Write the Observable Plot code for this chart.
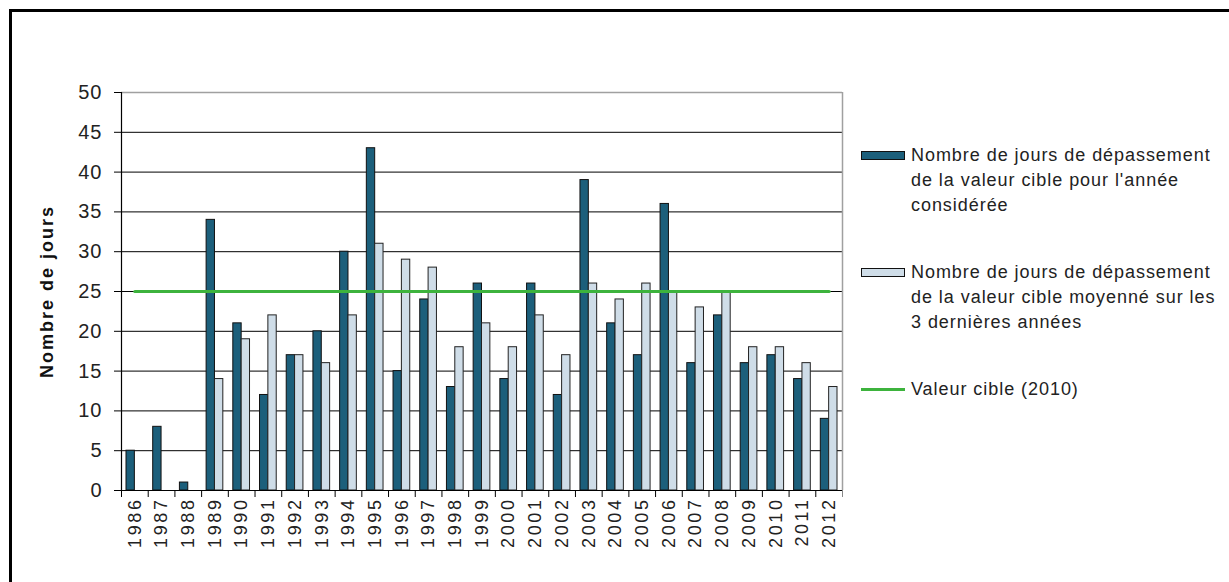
<!DOCTYPE html>
<html>
<head>
<meta charset="utf-8">
<script src="https://cdn.jsdelivr.net/npm/d3@7"></script>
<script src="https://cdn.jsdelivr.net/npm/@observablehq/plot@0.6"></script>
<style>
  html, body { margin: 0; padding: 0; background: #fff; overflow: hidden; }
  body { width: 1229px; height: 582px; position: relative; font-family: "Liberation Sans", Arial, sans-serif; }
  #frame { position: absolute; left: 9px; top: 9px; width: 1400px; height: 800px; border-left: 3px solid #000; border-top: 3px solid #000; }
  #chart { position: absolute; left: 0; top: 0; width: 850px; }
  #legend { position: absolute; left: 0; top: 0; width: 1229px; height: 582px; color: #222; font-size: 18px; letter-spacing: 0.95px; }
  .sw { position: absolute; left: 861px; width: 44px; height: 9px; box-sizing: border-box; border: 1px solid #111; }
  .ln { position: absolute; left: 861px; width: 44px; height: 3px; }
  .tx { position: absolute; left: 911px; line-height: 25px; white-space: nowrap; }
  g[aria-label="x-axis tick label"] text { letter-spacing: 2.6px; }
  g[aria-label="y-axis tick label"] text { letter-spacing: 1px; }
  g[aria-label="x-axis tick label"], g[aria-label="y-axis tick label"] { fill: #222; }
  g[aria-label="text"] text { letter-spacing: 2px; }
</style>
</head>
<body>
<div id="frame"></div>
<div id="chart"></div>
<div id="legend"></div>
<script>
// ---- data ----
const years = ["1986","1987","1988","1989","1990","1991","1992","1993","1994","1995","1996","1997","1998","1999","2000","2001","2002","2003","2004","2005","2006","2007","2008","2009","2010","2011","2012"];
const annual = [5, 8, 1, 34, 21, 12, 17, 20, 30, 43, 15, 24, 13, 26, 14, 26, 12, 39, 21, 17, 36, 16, 22, 16, 17, 14, 9];
const avg3 = [null, null, null, 14, 19, 22, 17, 16, 22, 31, 29, 28, 18, 21, 18, 22, 17, 26, 24, 26, 25, 23, 25, 18, 18, 16, 13];
const target = 25;
const yTicks = [0, 5, 10, 15, 20, 25, 30, 35, 40, 45, 50];
const gridTicks = [5, 10, 15, 20, 25, 30, 35, 40, 45];
const seriesNames = [
  "Nombre de jours de dépassement\nde la valeur cible pour l'année\nconsidérée",
  "Nombre de jours de dépassement\nde la valeur cible moyenné sur les\n3 dernières années",
  "Valeur cible (2010)"
];
const colors = { annual: "#1c5f7b", avg3: "#cfdde8", target: "#3db33d" };
const yLabel = "Nombre de jours";

// ---- tables ----
const annualRows = years.map((y, i) => ({ year: y, v: annual[i] }));
const avgRows = years.map((y, i) => ({ year: y, v: avg3[i] })).filter(d => d.v != null);

const W = 850, H = 582, ML = 121, MR = 8, MT = 92, MB = 92;
const bw = (W - ML - MR) / years.length;
const half = bw / 2;
const gap = 5;
const barW = (bw - 2 * gap) / 2;

const chart = Plot.plot({
  width: W, height: H,
  marginLeft: ML, marginRight: MR, marginTop: MT, marginBottom: MB,
  style: { fontFamily: "'Liberation Sans', Arial, sans-serif", color: "#000", background: "transparent", overflow: "visible" },
  x: { type: "band", domain: years, padding: 0, round: false, axis: null },
  y: { domain: [0, 50], axis: null },
  marks: [
    Plot.ruleY(gridTicks, { stroke: "#000", strokeWidth: 1 }),
    Plot.ruleY([50], { stroke: "#a0a0a0", strokeWidth: 1.5 }),
    Plot.ruleX(years.slice(-1), { x: d => d, dx: half, y1: 0, y2: 50, stroke: "#a0a0a0", strokeWidth: 1.5 }),
    Plot.barY(annualRows, { x: "year", y: "v", fill: colors.annual, stroke: "#111", strokeWidth: 1, insetLeft: gap, insetRight: gap + barW }),
    Plot.barY(avgRows, { x: "year", y: "v", fill: colors.avg3, stroke: "#222", strokeWidth: 1, insetLeft: gap + barW, insetRight: gap }),
    Plot.lineY(years, { x: d => d, y: () => target, stroke: colors.target, strokeWidth: 3.2 }),
    Plot.ruleY([0], { stroke: "#000", strokeWidth: 1.2 }),
    Plot.ruleX(years.slice(0, 1), { x: d => d, dx: -half, y1: 0, y2: 50, stroke: "#000", strokeWidth: 1.2 }),
    Plot.axisY(yTicks, { tickSize: 7, tickPadding: 12, fontSize: 20, label: null, stroke: "#000" }),
    Plot.axisX(years, { tickSize: 7, dx: -half, tickFormat: () => "", label: null, stroke: "#000" }),
    Plot.axisX(years.slice(-1), { tickSize: 7, dx: half, tickFormat: () => "", label: null, stroke: "#888" }),
    Plot.axisX(years, { tickSize: 0, tickPadding: 7, tickRotate: -90, fontSize: 18, label: null }),
    Plot.text([yLabel], { frameAnchor: "left", textAnchor: "middle", rotate: -90, dx: -74, fontSize: 18, fontWeight: "bold", fill: "#111" })
  ]
});
document.getElementById("chart").appendChild(chart);

// ---- legend (HTML, right side) ----
const legend = document.getElementById("legend");
function addText(lines, firstCenter) {
  const d = document.createElement("div");
  d.className = "tx";
  d.style.top = (firstCenter - 12.5) + "px";
  d.innerHTML = lines.split("\n").map(s => s.replace(/&/g, "&amp;")).join("<br>");
  legend.appendChild(d);
}
const sw1 = document.createElement("div"); sw1.className = "sw"; sw1.style.top = "151px"; sw1.style.background = colors.annual; legend.appendChild(sw1);
addText(seriesNames[0], 155);
const sw2 = document.createElement("div"); sw2.className = "sw"; sw2.style.top = "268px"; sw2.style.background = colors.avg3; legend.appendChild(sw2);
addText(seriesNames[1], 272);
const ln3 = document.createElement("div"); ln3.className = "ln"; ln3.style.top = "388px"; ln3.style.background = colors.target; legend.appendChild(ln3);
addText(seriesNames[2], 389);
</script>
</body>
</html>
